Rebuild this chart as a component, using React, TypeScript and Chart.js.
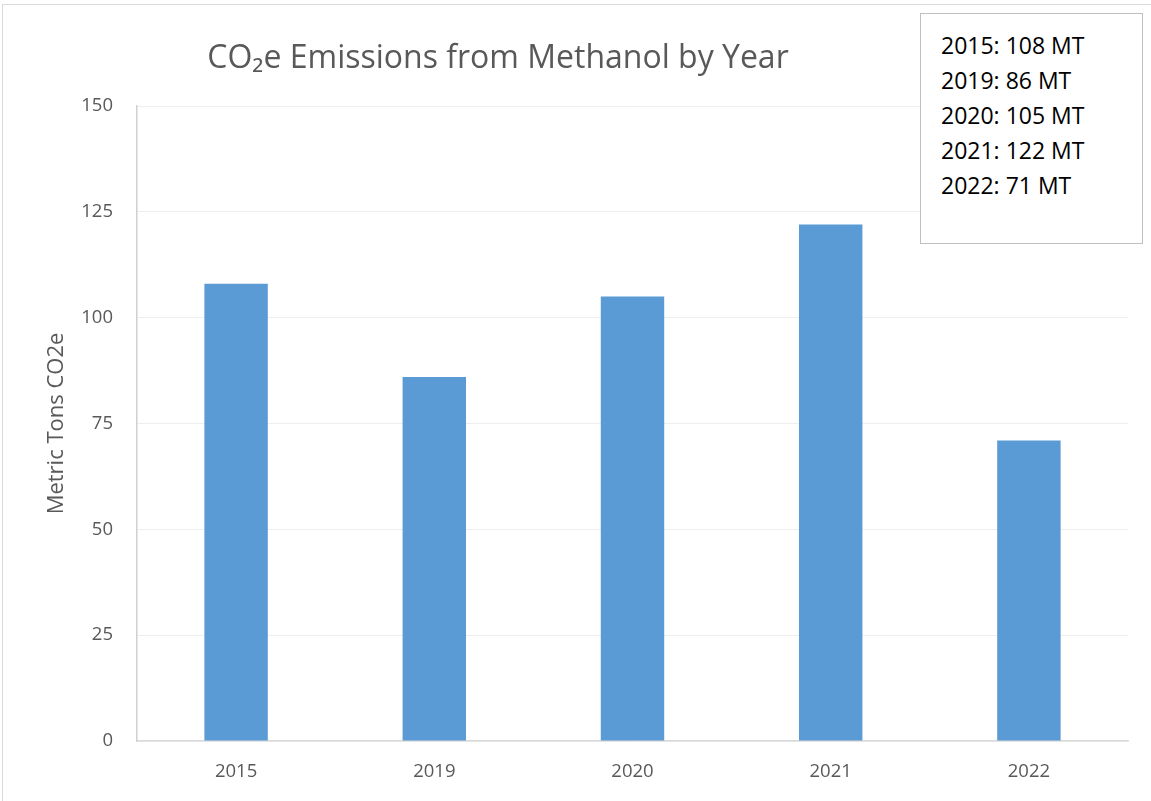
import React, { useEffect, useRef } from "react";
import { Chart, registerables } from "chart.js";

Chart.register(...registerables);

const categories = ["2015", "2019", "2020", "2021", "2022"];
const emissions = [108, 86, 105, 122, 71];
const yTicks = [0, 25, 50, 75, 100, 125, 150];
const titleText = "CO\u2082e Emissions from Methanol by Year";
const yAxisTitle = "Metric Tons CO2e";
const unitLabel = "MT";

const FONT = "'Open Sans', 'Noto Sans', sans-serif";

export default function App() {
  const canvasRef = useRef<HTMLCanvasElement | null>(null);

  useEffect(() => {
    const canvas = canvasRef.current;
    if (!canvas) return;
    const chart = new Chart(canvas, {
      type: "bar",
      data: {
        labels: categories,
        datasets: [
          {
            data: emissions,
            backgroundColor: "#5b9bd5",
            borderWidth: 0,
            barPercentage: 0.32,
            categoryPercentage: 1,
          },
        ],
      },
      options: {
        animation: false,
        responsive: false,
        maintainAspectRatio: false,
        layout: { padding: { top: 106, right: 23, bottom: 0, left: 0 } },
        plugins: {
          legend: { display: false },
          tooltip: { enabled: false },
          title: { display: false },
        },
        scales: {
          x: {
            grid: { display: false, drawTicks: false },
            border: { display: true, color: "#d9d9d9", width: 1.5 },
            ticks: {
              color: "#595959",
              font: { family: FONT, size: 18.5 },
              padding: 20,
            },
            afterFit: (scale: any) => {
              scale.height = 60;
            },
          },
          y: {
            min: 0,
            max: 150,
            afterBuildTicks: (scale: any) => {
              scale.ticks = yTicks.map((v) => ({ value: v }));
            },
            grid: { color: "#eeeeee", lineWidth: 1, drawTicks: false },
            border: { display: true, color: "#d0d0d0", width: 1.5 },
            ticks: {
              color: "#595959",
              font: { family: FONT, size: 18.5 },
              padding: 24,
            },
            title: {
              display: true,
              text: yAxisTitle,
              color: "#595959",
              font: { family: FONT, size: 22, weight: "normal" },
              padding: { top: 44, bottom: 0 },
            },
            afterFit: (scale: any) => {
              scale.width = 137;
            },
          },
        },
      },
    });
    return () => chart.destroy();
  }, []);

  return (
    <div
      style={{
        position: "fixed",
        left: 0,
        top: 0,
        width: 1151,
        height: 801,
        background: "#ffffff",
        overflow: "hidden",
      }}
    >
      <div
        style={{
          position: "absolute",
          left: 2,
          top: 4,
          width: 1200,
          height: 900,
          border: "1.5px solid #d9d9d9",
          boxSizing: "border-box",
        }}
      />
      <canvas
        ref={canvasRef}
        width={1151}
        height={801}
        style={{ position: "absolute", left: 0, top: 0, width: 1151, height: 801 }}
      />
      <div
        style={{
          position: "absolute",
          left: 0,
          width: 996,
          top: 35,
          textAlign: "center",
          fontFamily: FONT,
          fontSize: 32,
          color: "#595959",
          lineHeight: "42px",
          whiteSpace: "nowrap",
        }}
      >
        {titleText}
      </div>
      <div
        style={{
          position: "absolute",
          left: 920,
          top: 13,
          width: 223,
          height: 231,
          border: "1.5px solid #bfbfbf",
          boxSizing: "border-box",
          background: "#ffffff",
          paddingLeft: 20,
          paddingTop: 14,
          fontFamily: FONT,
          fontSize: 23,
          lineHeight: "35px",
          color: "#000000",
        }}
      >
        {categories.map((c, i) => (
          <div key={c} style={{ whiteSpace: "nowrap" }}>
            {c}: {emissions[i]} {unitLabel}
          </div>
        ))}
      </div>
    </div>
  );
}
